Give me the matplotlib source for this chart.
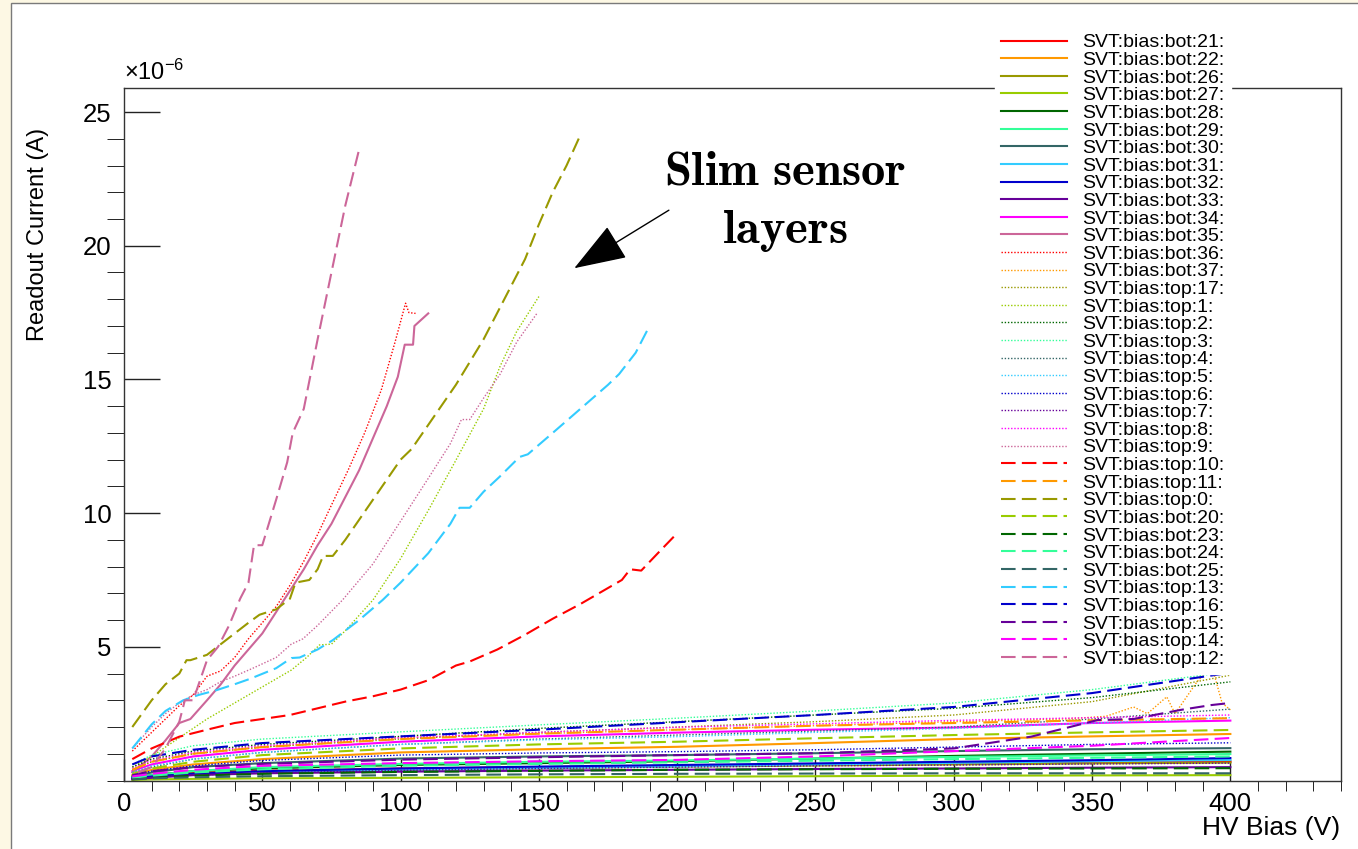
import matplotlib
matplotlib.use("Agg")
import matplotlib.pyplot as plt
from matplotlib.patches import Rectangle

plt.rcParams['font.family'] = ['Liberation Sans', 'DejaVu Sans']
plt.rcParams['mathtext.fontset'] = 'custom'
plt.rcParams['mathtext.rm'] = 'Liberation Sans'
plt.rcParams['mathtext.it'] = 'Liberation Sans:italic'

# ---- data (current in units of 1e-6 A) ----
# low-current channels share one bias grid
bias_grid = [3, 10, 25, 50, 100, 150, 200, 250, 300, 350, 400]

bot21 = [0.10, 0.18, 0.28, 0.36, 0.45, 0.50, 0.55, 0.60, 0.63, 0.67, 0.70]
bot22 = [0.20, 0.40, 0.60, 0.80, 1.05, 1.17, 1.26, 1.40, 1.55, 1.65, 1.74]
bot26 = [0.08, 0.14, 0.22, 0.30, 0.40, 0.46, 0.52, 0.56, 0.60, 0.64, 0.67]
bot27 = [0.02, 0.04, 0.06, 0.08, 0.10, 0.12, 0.14, 0.16, 0.18, 0.19, 0.20]
bot28 = [0.10, 0.20, 0.35, 0.45, 0.58, 0.65, 0.72, 0.82, 0.92, 1.00, 1.08]
bot29 = [0.10, 0.20, 0.35, 0.50, 0.62, 0.70, 0.75, 0.82, 0.88, 0.94, 0.99]
bot30 = [0.15, 0.30, 0.50, 0.65, 0.82, 0.90, 0.95, 1.02, 1.10, 1.17, 1.21]
bot31 = [0.08, 0.14, 0.22, 0.30, 0.40, 0.47, 0.53, 0.60, 0.66, 0.72, 0.77]
bot32 = [0.08, 0.15, 0.25, 0.35, 0.45, 0.52, 0.58, 0.64, 0.70, 0.76, 0.84]
bot33 = [0.05, 0.10, 0.20, 0.27, 0.33, 0.37, 0.40, 0.43, 0.45, 0.48, 0.50]
bot34 = [0.35, 0.60, 0.90, 1.15, 1.45, 1.65, 1.79, 1.90, 1.98, 2.15, 2.24]
top17 = [0.40, 0.70, 1.00, 1.25, 1.55, 1.80, 2.00, 2.20, 2.45, 2.95, 3.94]
top2 = [0.50, 0.80, 1.10, 1.35, 1.65, 1.95, 2.20, 2.45, 2.70, 3.10, 3.69]
top3 = [0.60, 0.95, 1.30, 1.55, 1.82, 2.08, 2.33, 2.60, 2.90, 3.40, 4.07]
top4 = [0.30, 0.50, 0.80, 1.05, 1.35, 1.55, 1.70, 1.85, 2.00, 2.30, 2.67]
top5 = [0.30, 0.55, 0.80, 1.05, 1.35, 1.52, 1.64, 1.80, 1.95, 2.15, 2.35]
top6 = [0.20, 0.35, 0.55, 0.75, 0.95, 1.03, 1.08, 1.15, 1.25, 1.35, 1.41]
top7 = [0.06, 0.12, 0.20, 0.28, 0.38, 0.45, 0.50, 0.55, 0.58, 0.62, 0.65]
top8 = [0.45, 0.75, 1.05, 1.30, 1.60, 1.80, 1.99, 2.12, 2.25, 2.35, 2.45]
top11 = [0.40, 0.70, 1.00, 1.25, 1.55, 1.75, 1.90, 2.05, 2.15, 2.25, 2.33]
bot20 = [0.25, 0.45, 0.70, 0.95, 1.20, 1.35, 1.45, 1.58, 1.70, 1.80, 1.89]
bot23 = [0.05, 0.10, 0.18, 0.25, 0.32, 0.36, 0.40, 0.42, 0.44, 0.45, 0.46]
bot24 = [0.10, 0.18, 0.30, 0.42, 0.55, 0.62, 0.68, 0.74, 0.80, 0.85, 0.90]
bot25 = [0.04, 0.08, 0.12, 0.16, 0.20, 0.23, 0.25, 0.26, 0.27, 0.27, 0.27]
top16 = [0.60, 0.90, 1.15, 1.40, 1.65, 1.90, 2.18, 2.45, 2.75, 3.27, 4.03]
top14 = [0.15, 0.25, 0.40, 0.55, 0.65, 0.72, 0.77, 0.90, 1.10, 1.30, 1.59]

# channels with their own bias points
bot37_v = [3, 10, 25, 50, 100, 150, 200, 250, 300, 340, 355, 365, 370, 377, 380, 388, 391, 394, 397, 400]
bot37_i = [0.40, 0.70, 1.00, 1.25, 1.60, 1.75, 1.90, 2.05, 2.20, 2.30, 2.40, 2.75, 2.50, 3.13, 2.50, 3.70, 4.02, 4.02, 2.90, 2.64]
top15_v = [3, 10, 25, 50, 100, 150, 200, 250, 300, 328, 352, 365, 382, 393, 400]
top15_i = [0.20, 0.35, 0.50, 0.62, 0.78, 0.87, 0.95, 1.02, 1.20, 1.64, 2.26, 2.30, 2.64, 2.82, 2.90]

# slim sensor layers
bot35_v = [3, 10, 15, 20, 24, 30, 35, 40, 45, 50, 55, 60, 65, 70, 75, 80, 85, 90, 95, 99, 101.5, 104.5, 105, 110]
bot35_i = [0.3, 0.9, 1.5, 2.15, 2.3, 3.0, 3.6, 4.3, 4.9, 5.5, 6.3, 7.1, 7.9, 8.8, 9.6, 10.6, 11.6, 12.8, 14.0, 15.1, 16.3, 16.3, 17.0, 17.47]
bot36_v = [3, 10, 15, 20, 25, 30, 35, 40, 45, 50, 55, 60, 65, 70, 75, 81, 87, 93, 98, 101.8, 103, 105.4]
bot36_i = [1.1, 1.8, 2.3, 2.8, 3.2, 3.9, 4.1, 4.6, 5.3, 5.9, 6.5, 7.3, 8.2, 9.2, 10.3, 11.6, 13.0, 14.6, 16.4, 17.85, 17.5, 17.47]
top1_v = [3, 10, 20, 30, 40, 50, 55, 60.5, 66, 70.7, 75, 80, 90, 100, 110, 120, 130, 136, 142, 150]
top1_i = [0.5, 0.9, 1.6, 2.3, 2.9, 3.5, 3.8, 4.13, 4.6, 5.07, 5.1, 5.6, 6.75, 8.3, 10.1, 11.98, 13.9, 15.5, 16.8, 18.1]
top9_v = [3, 10, 15, 20, 25, 30, 35, 40, 46.6, 55, 60.5, 64.7, 70, 79, 90, 100, 110, 118, 122, 125, 130, 136, 142, 149.5]
top9_i = [1.2, 2.0, 2.5, 2.9, 3.2, 3.4, 3.7, 3.9, 4.2, 4.6, 5.1, 5.3, 5.8, 6.75, 8.1, 9.7, 11.3, 12.6, 13.5, 13.5, 14.3, 15.2, 16.4, 17.5]
top10_v = [3, 10, 20, 30, 40, 50, 60, 70, 80, 90, 100, 110, 120, 125, 135, 145, 155, 165, 175, 180, 183, 187, 193, 200]
top10_i = [0.8, 1.2, 1.64, 1.9, 2.15, 2.3, 2.45, 2.7, 2.95, 3.15, 3.4, 3.75, 4.3, 4.45, 4.9, 5.45, 6.05, 6.6, 7.2, 7.5, 7.9, 7.85, 8.5, 9.25]
top0_v = [3, 10, 15, 20, 22.6, 24, 30, 35, 40, 45, 49, 55, 60, 62, 67, 70, 72, 75.5, 80, 90, 100, 104, 110, 120, 130, 136, 145, 150, 155, 160, 164.6]
top0_i = [2.0, 3.0, 3.6, 4.0, 4.5, 4.5, 4.7, 5.1, 5.5, 5.9, 6.2, 6.4, 6.8, 7.4, 7.5, 7.9, 8.4, 8.4, 9.0, 10.5, 12.0, 12.4, 13.3, 14.8, 16.5, 17.7, 19.5, 20.8, 22.0, 23.0, 24.05]
top13_v = [3, 10, 15, 21.4, 27, 33.5, 40, 45.5, 55, 60.5, 63.5, 70, 75.5, 85, 93.5, 100, 110, 118, 121.3, 125, 130, 135.7, 143, 146, 155, 165, 175, 179, 185, 190]
top13_i = [1.2, 2.1, 2.6, 3.0, 3.2, 3.38, 3.6, 3.8, 4.2, 4.58, 4.6, 4.9, 5.25, 6.0, 6.75, 7.4, 8.5, 9.6, 10.2, 10.2, 10.8, 11.35, 12.1, 12.2, 13.0, 13.9, 14.8, 15.2, 16.0, 17.0]
top12_v = [5, 10, 15, 20, 22, 25, 30, 34, 38, 42, 45, 47, 50, 55, 59, 61, 65, 70, 75, 80, 85]
top12_i = [0.3, 0.5, 1.2, 2.2, 3.0, 3.0, 4.5, 5.0, 5.8, 6.8, 7.4, 8.8, 8.8, 10.5, 11.9, 13.0, 13.9, 16.5, 19.0, 21.5, 23.6]

# palette used for each group of 12 channels
palette = ['#ff0000', '#ff9900', '#999900', '#99cc00', '#006600', '#33ff99',
           '#336666', '#33ccff', '#0000cc', '#660099', '#ff00ff', '#cc6699']

g = bias_grid
solid = [('SVT:bias:bot:21:', g, bot21), ('SVT:bias:bot:22:', g, bot22),
         ('SVT:bias:bot:26:', g, bot26), ('SVT:bias:bot:27:', g, bot27),
         ('SVT:bias:bot:28:', g, bot28), ('SVT:bias:bot:29:', g, bot29),
         ('SVT:bias:bot:30:', g, bot30), ('SVT:bias:bot:31:', g, bot31),
         ('SVT:bias:bot:32:', g, bot32), ('SVT:bias:bot:33:', g, bot33),
         ('SVT:bias:bot:34:', g, bot34), ('SVT:bias:bot:35:', bot35_v, bot35_i)]
dotted = [('SVT:bias:bot:36:', bot36_v, bot36_i), ('SVT:bias:bot:37:', bot37_v, bot37_i),
          ('SVT:bias:top:17:', g, top17), ('SVT:bias:top:1:', top1_v, top1_i),
          ('SVT:bias:top:2:', g, top2), ('SVT:bias:top:3:', g, top3),
          ('SVT:bias:top:4:', g, top4), ('SVT:bias:top:5:', g, top5),
          ('SVT:bias:top:6:', g, top6), ('SVT:bias:top:7:', g, top7),
          ('SVT:bias:top:8:', g, top8), ('SVT:bias:top:9:', top9_v, top9_i)]
dashed = [('SVT:bias:top:10:', top10_v, top10_i), ('SVT:bias:top:11:', g, top11),
          ('SVT:bias:top:0:', top0_v, top0_i), ('SVT:bias:bot:20:', g, bot20),
          ('SVT:bias:bot:23:', g, bot23), ('SVT:bias:bot:24:', g, bot24),
          ('SVT:bias:bot:25:', g, bot25), ('SVT:bias:top:13:', top13_v, top13_i),
          ('SVT:bias:top:16:', g, top16), ('SVT:bias:top:15:', top15_v, top15_i),
          ('SVT:bias:top:14:', g, top14), ('SVT:bias:top:12:', top12_v, top12_i)]

W, H = 1358, 849
fig = plt.figure(figsize=(W / 100, H / 100), dpi=100)
fig.patch.set_facecolor('#fdf8e4')
fig.patches.append(Rectangle((11 / W, -0.01), 1.0, 1 - 3 / H + 0.01, transform=fig.transFigure,
                             facecolor='white', edgecolor='#7a7a7a', lw=1, zorder=-10))

ax = fig.add_axes([124 / W, 1 - 780.5 / H, (1341 - 124) / W, (780.5 - 88) / H])

for i, (lab, v, cur) in enumerate(solid):
    ax.plot(v, cur, color=palette[i], lw=1.5, label=lab)
for i, (lab, v, cur) in enumerate(dotted):
    ax.plot(v, cur, color=palette[i], lw=1.0, dashes=(1, 1.3), label=lab)
for i, (lab, v, cur) in enumerate(dashed):
    ax.plot(v, cur, color=palette[i], lw=1.5, dashes=(7, 3), label=lab)

ax.set_xlim(0, 440)
ax.set_ylim(0, 25.9)
ax.set_xticks([0, 50, 100, 150, 200, 250, 300, 350, 400])
ax.set_xticks(range(0, 441, 10), minor=True)
ax.set_yticks([5, 10, 15, 20, 25])
ax.set_yticks(range(0, 26), minor=True)
ax.tick_params(direction='in', labelsize=18.5, width=1, color='#222222')
ax.tick_params(axis='x', which='major', length=16, pad=8)
ax.tick_params(axis='x', which='minor', length=7)
ax.tick_params(axis='y', which='major', length=26, pad=9)
ax.tick_params(axis='y', which='minor', length=12)
for s in ax.spines.values():
    s.set_color('#333333')
    s.set_linewidth(1)

ax.text(0.0, 1.005, r'$\times10^{-6}$', transform=ax.transAxes, fontsize=17,
        ha='left', va='bottom')
fig.text(38 / W, 1 - 128 / H, 'Readout Current (A)', rotation=90, ha='center', va='top',
         fontsize=17)
fig.text(1340 / W, 1 - 828 / H, 'HV Bias (V)', ha='right', va='center', fontsize=19)

ax.annotate('', xy=(162.8, 19.16), xytext=(197, 21.33),
            arrowprops=dict(arrowstyle='-|>,head_length=1.4,head_width=0.5',
                            mutation_scale=24, lw=1, color='black', shrinkA=0, shrinkB=0))
ax.text(239, 22.75, r'$\mathbf{Slim\ sensor}$', math_fontfamily='cm', fontsize=35,
        ha='center', va='center')
ax.text(239, 20.55, r'$\mathbf{layers}$', math_fontfamily='cm', fontsize=35,
        ha='center', va='center')

leg = ax.legend(loc='upper left', bbox_to_anchor=(995 / W, 1 - 28 / H),
                bbox_transform=fig.transFigure, fontsize=14, frameon=True,
                facecolor='white', edgecolor='white', framealpha=1, fancybox=False,
                handlelength=3.4, handletextpad=0.8, labelspacing=0.0,
                borderpad=0.3, borderaxespad=0)
leg.set_zorder(5)

fig.savefig('out.png', dpi=100, facecolor=fig.get_facecolor())
